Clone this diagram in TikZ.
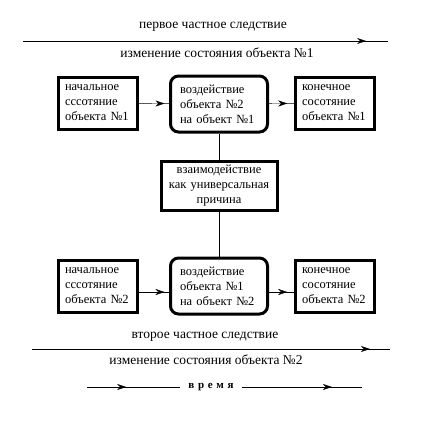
\documentclass[tikz,border=0pt]{standalone}
\usepackage{fontspec}
\setmainfont{Liberation Serif}
\usetikzlibrary{arrows.meta,decorations.markings}
\tikzset{
  box/.style={draw,line width=3pt,minimum width=79pt,minimum height=52pt,inner sep=0pt,
    text width=66pt,align=left,font=\fontsize{12.5}{15}\selectfont},
  actbox/.style={box,rounded corners=8pt,minimum width=97pt,minimum height=56pt,text width=78pt},
  causebox/.style={box,minimum width=116pt,minimum height=49pt,text width=112pt,align=center},
  arrowat/.style={postaction={decorate},decoration={markings,
    mark=at position #1 with {\arrow{Stealth[length=9pt,width=6pt]}}}},
  lbl/.style={font=\fontsize{13.5}{15}\selectfont}
}
\begin{document}
\begin{tikzpicture}[x=1pt,y=-1pt]
\useasboundingbox (0,0) rectangle (437,440);
% first consequence
\node[lbl] (first) at (213,27) {первое частное следствие};
\coordinate (t1) at (23,41);
\coordinate (t2) at (388,41);
\draw[arrowat=0.94] (t1)--(t2);
\node[lbl] (change1) at (217,53) {изменение состояния объекта №1};
% row of object 1
\node[box] (start1) at (98,103) {начальное\\сссотяние\\объекта №1};
\node[actbox] (act1) at (219,104) {воздействие\\объекта №2\\на объект №1};
\node[box] (end1) at (335,103) {конечное\\сосотяние\\объекта №1};
\draw[arrowat=0.85] (start1)--(act1);
\draw[arrowat=0.73] (act1)--(end1);
% cause
\node[causebox] (cause) at (219,186) {взаимодействие\\как универсальная\\причина};
\draw (act1)--(cause);
% row of object 2
\node[box] (start2) at (98,286) {начальное\\сссотяние\\объекта №2};
\node[actbox] (act2) at (219,286) {воздействие\\объекта №1\\на объект №2};
\node[box] (end2) at (335,286) {конечное\\сосотяние\\объекта №2};
\draw (cause)--(act2);
\draw[arrowat=0.85] (start2.east |- 0,292)--(act2.west |- 0,292);
\draw[arrowat=0.73] (act2.east |- 0,292)--(end2.west |- 0,292);
% second consequence
\node[lbl] (second) at (205,337) {второе частное следствие};
\coordinate (b1) at (32,349);
\coordinate (b2) at (390,349);
\draw[arrowat=0.944] (b1)--(b2);
\node[lbl] (change2) at (206,360) {изменение состояния объекта №2};
% time
\node[font=\fontsize{11}{12}\selectfont\bfseries,inner xsep=8pt] (time) at (211,387) {в\,\,р\,\,е\,\,м\,\,я};
\coordinate (tl) at (87,387);
\coordinate (tr) at (362,387);
\draw[arrowat=0.42] (tl)--(time);
\draw[arrowat=0.75] (time)--(tr);
\end{tikzpicture}
\end{document}
